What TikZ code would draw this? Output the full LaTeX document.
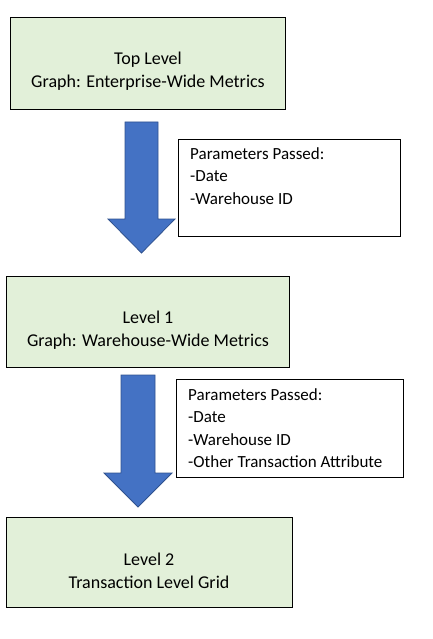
\documentclass[tikz,border=0pt]{standalone}
\usepackage{fontspec}
\setmainfont{Carlito}
\usetikzlibrary{positioning}
\definecolor{lvlG}{RGB}{226,240,217}
\definecolor{arB}{RGB}{68,114,196}
\definecolor{arE}{RGB}{47,82,143}

\begin{document}
\begin{tikzpicture}[x=1pt,y=-1pt,
   lvl/.style={draw,fill=lvlG,line width=0.9pt,inner sep=0pt},
   lvltxt/.style={align=center,inner sep=0pt,font=\fontsize{18}{23}\selectfont},
   pbox/.style={draw,fill=white,line width=0.9pt,inner sep=0pt},
   ptxt/.style={anchor=north west,align=left,inner sep=0pt,font=\fontsize{17}{22.5}\selectfont},
   bigarrow/.style={fill=arB,draw=arE,line width=0.8pt}]
\useasboundingbox (0,0) rectangle (433,639);
%% ---- level boxes ----
\node[lvl,minimum width=275,minimum height=92] (top) at (147.5,63) {};
\node[lvltxt] (top-t) at (148,71.5) {Top Level\\Graph: Enterprise-Wide Metrics};
\node[lvl,minimum width=283,minimum height=91] (lv1) at (147.5,321.5) {};
\node[lvltxt] (lv1-t) at (148,330.5) {Level 1\\Graph: Warehouse-Wide Metrics};
\node[lvl,minimum width=286,minimum height=90] (lv2) at (149,562) {};
\node[lvltxt] (lv2-t) at (149,570.5) {Level 2\\Transaction Level Grid};
%% ---- parameter boxes ----
\node[pbox,minimum width=222,minimum height=97] (par1) at (289,187.5) {};
\node[ptxt] (par1t) at (190,147) {Parameters Passed:\\-Date\\-Warehouse ID};
\node[pbox,minimum width=227,minimum height=98] (par2) at (289.5,428) {};
\node[ptxt] (par2t) at (188,388) {Parameters Passed:\\-Date\\-Warehouse ID\\-Other Transaction Attribute};
%% ---- block arrows ----
\begin{scope}[shift={(141.5,122)}]
  \draw[bigarrow] (-16.5,0) -- (16.5,0) -- (16.5,97) -- (33.5,97) -- (0,131)
     -- (-33.5,97) -- (-16.5,97) -- cycle;
\end{scope}
\begin{scope}[shift={(138,375)}]
  \draw[bigarrow] (-17,0) -- (17,0) -- (17,98) -- (34,98) -- (0,132)
     -- (-34,98) -- (-17,98) -- cycle;
\end{scope}
\end{tikzpicture}
\end{document}
